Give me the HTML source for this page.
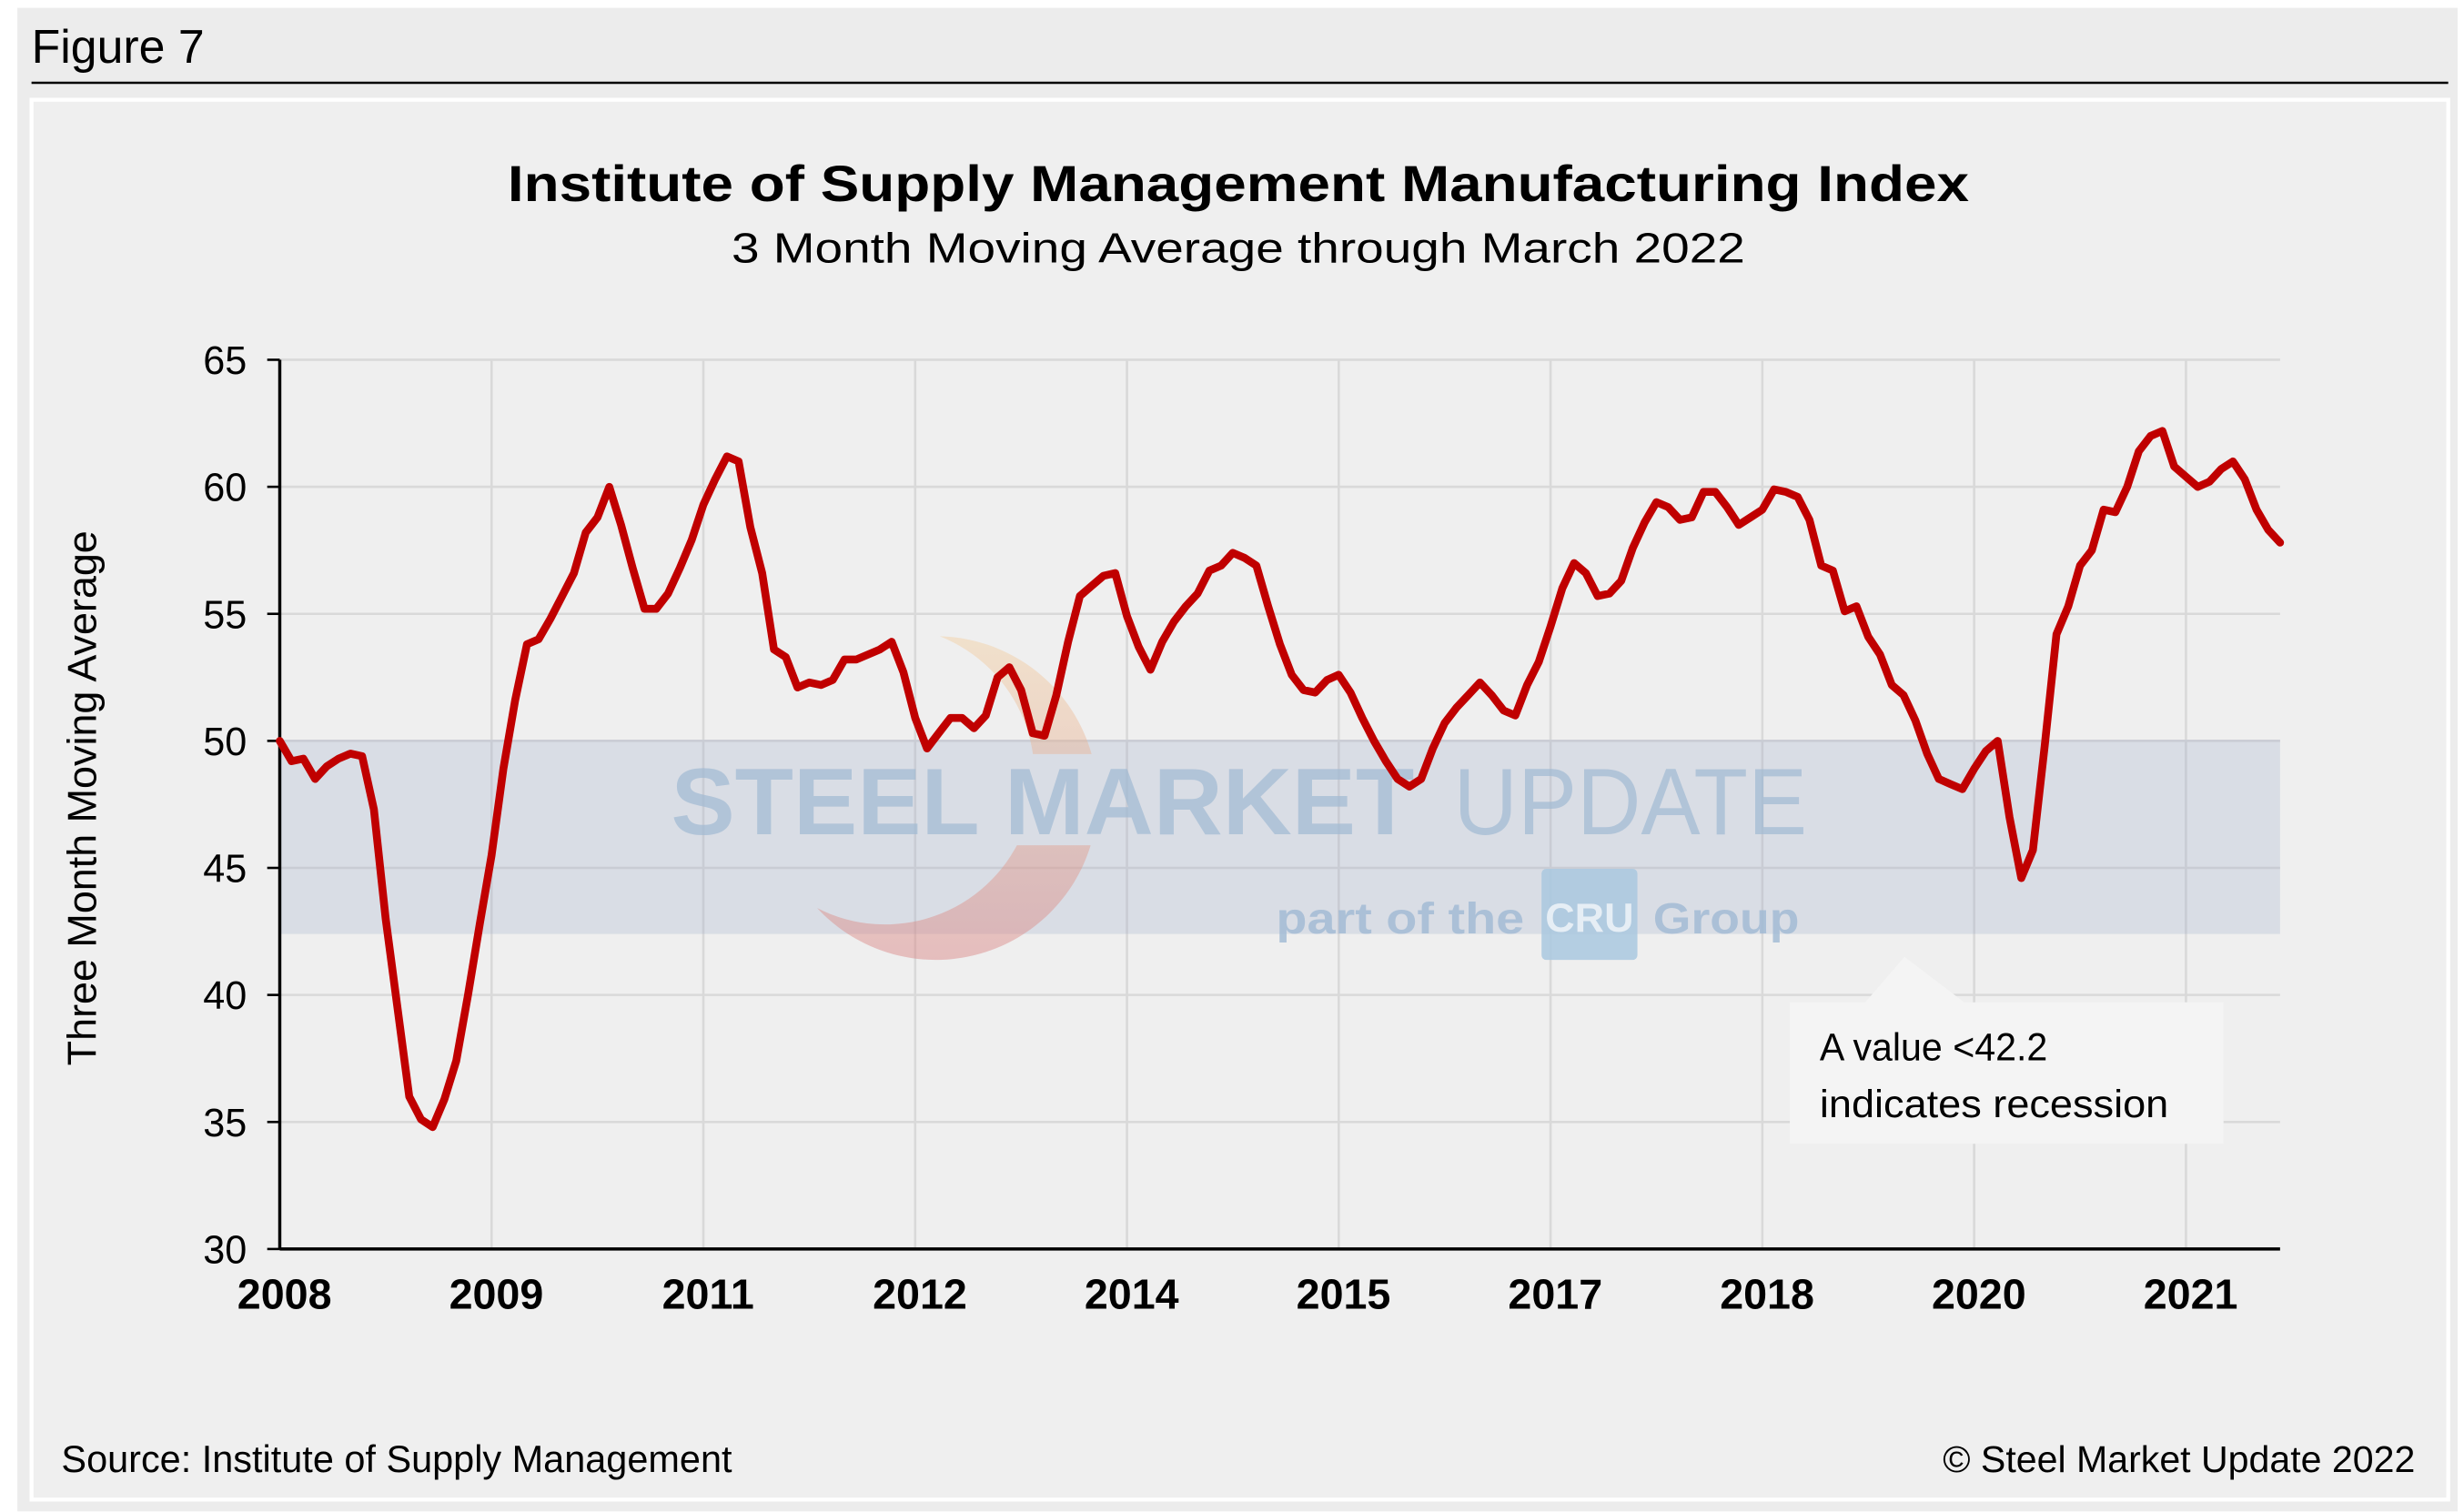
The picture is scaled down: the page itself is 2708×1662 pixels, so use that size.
<!DOCTYPE html>
<html><head><meta charset="utf-8"><style>
html,body{margin:0;padding:0;background:#fff;}
svg{display:block;}
text{font-family:"Liberation Sans",Arial,sans-serif;}
</style></head><body>
<svg id="chart" width="2708" height="1662" viewBox="0 0 1568 962.4" xmlns="http://www.w3.org/2000/svg">
<defs>
<linearGradient id="logoGrad" x1="0" y1="0" x2="0" y2="1">
<stop offset="0" stop-color="#f3cfa0" stop-opacity="0.45"/>
<stop offset="1" stop-color="#d88080" stop-opacity="0.45"/>
</linearGradient>
<clipPath id="logoClip"><rect x="0" y="0" width="1568" height="480"/><rect x="0" y="538" width="1568" height="300"/></clipPath>
</defs>
<rect x="11" y="5" width="1553" height="957" fill="#ececec"/>
<text x="20" y="40" font-size="30" fill="#000">Figure 7</text>
<line x1="20" y1="52.7" x2="1558" y2="52.7" stroke="#000" stroke-width="1.5"/>
<rect x="20" y="63.5" width="1538" height="891" fill="#efefef" stroke="#fff" stroke-width="2.5"/>
<text x="788" y="128" text-anchor="middle" font-size="32" font-weight="bold" textLength="930" lengthAdjust="spacingAndGlyphs">Institute of Supply Management Manufacturing Index</text>
<text x="788" y="167" text-anchor="middle" font-size="27" textLength="645" lengthAdjust="spacingAndGlyphs">3 Month Moving Average through March 2022</text>
<g id="grid"></g>
<rect id="band" fill="#d9dde5"/>
<g id="gridOver"></g>
<g>
<path d="M 598 405 A 103 103 0 1 1 520 578 A 95 95 0 1 0 598 405 Z" fill="url(#logoGrad)" clip-path="url(#logoClip)"/>
<text x="427" y="531" font-size="60" font-weight="bold" fill="#9fb9d3" fill-opacity="0.7" textLength="473" lengthAdjust="spacingAndGlyphs">STEEL MARKET</text>
<text x="925" y="531" font-size="60" fill="#9fb9d3" fill-opacity="0.7" textLength="225" lengthAdjust="spacingAndGlyphs">UPDATE</text>
<text x="812" y="594" font-size="28" font-weight="bold" fill="#9fb9d3" fill-opacity="0.8" textLength="158" lengthAdjust="spacingAndGlyphs">part of the</text>
<rect x="981" y="553" width="61" height="58" rx="3" fill="#a9c8df" fill-opacity="0.85"/>
<text x="1011.5" y="593" text-anchor="middle" font-size="26" font-weight="bold" fill="#e6eef5">CRU</text>
<text x="1052" y="594" font-size="28" font-weight="bold" fill="#9fb9d3" fill-opacity="0.8" textLength="93" lengthAdjust="spacingAndGlyphs">Group</text>
</g>
<g id="axes"></g>
<path id="series" fill="none" stroke="#c00000" stroke-width="5" stroke-linejoin="round" stroke-linecap="round"/>
<g>
<path d="M1139 638 L1187 638 L1212 609 L1250 638 L1415 638 L1415 728 L1139 728 Z" fill="#f4f4f4"/>
<text x="1158" y="675" font-size="24.5" textLength="145" lengthAdjust="spacingAndGlyphs">A value &lt;42.2</text>
<text x="1158" y="711" font-size="24.5" textLength="222" lengthAdjust="spacingAndGlyphs">indicates recession</text>
</g>
<text transform="translate(61,508) rotate(-90)" text-anchor="middle" font-size="26">Three Month Moving Average</text>
<text x="39" y="937" font-size="24">Source: Institute of Supply Management</text>
<text x="1537" y="937" text-anchor="end" font-size="23.8">© Steel Market Update 2022</text>
</svg>
<script>
const values = [50.0,49.2,49.3,48.5,49.0,49.3,49.5,49.4,47.3,43.0,39.5,36.0,35.1,34.8,35.9,37.4,40.0,42.8,
45.5,48.9,51.6,53.8,54.0,54.8,55.7,56.6,58.2,58.8,60.0,58.5,56.8,55.2,55.2,55.8,56.8,57.9,
59.3,60.3,61.2,61.0,58.4,56.6,53.6,53.3,52.1,52.3,52.2,52.4,53.2,53.2,53.4,53.6,53.9,52.7,
50.9,49.7,50.3,50.9,50.9,50.5,51.0,52.5,52.9,52.0,50.3,50.2,51.8,53.9,55.7,56.1,56.5,56.6,
54.9,53.7,52.8,53.9,54.7,55.3,55.8,56.7,56.9,57.4,57.2,56.9,55.3,53.8,52.6,52.0,51.9,52.4,
52.6,51.9,50.9,50.0,49.2,48.5,48.2,48.5,49.7,50.7,51.3,51.8,52.3,51.8,51.2,51.0,52.2,53.1,
54.5,56.0,57.0,56.6,55.7,55.8,56.3,57.6,58.6,59.4,59.2,58.7,58.8,59.8,59.8,59.2,58.5,58.8,
59.1,59.9,59.8,59.6,58.7,56.9,56.7,55.1,55.3,54.1,53.4,52.2,51.8,50.8,49.5,48.5,48.3,48.1,
48.9,49.6,50.0,47.0,44.6,45.7,49.8,54.2,55.3,56.9,57.5,59.1,59.0,60.0,61.4,62.0,62.2,60.8,
60.4,60.0,60.2,60.7,61.0,60.3,59.1,58.3,57.8];
const xTickLabels = ["2008","2009","2011","2012","2014","2015","2017","2018","2020","2021"];
const xTickMonths = [0,18,36,54,72,90,108,126,144,162];
const yTicks = [30,35,40,45,50,55,60,65];
const bandRange = [42.4,50];

const NS="http://www.w3.org/2000/svg";
const X0=178, X1=1451, Y0=795, Y1=229, YMIN=30, YMAX=65;
const nMonths = values.length-1;
function xs(m){return X0+(X1-X0)*m/nMonths;}
function ys(v){return Y0-(Y0-Y1)*(v-YMIN)/(YMAX-YMIN);}
function mk(tag,attrs,parent){const e=document.createElementNS(NS,tag);for(const k in attrs)e.setAttribute(k,attrs[k]);parent.appendChild(e);return e;}

const grid=document.getElementById('grid'), axes=document.getElementById('axes');
yTicks.forEach(v=>{
  const l=mk('line',{x1:X0,x2:X1,y1:ys(v),y2:ys(v),stroke:'#d9d9d9','stroke-width':1.5},grid);
  
  
  const t=mk('line',{x1:X0-8,x2:X0,y1:ys(v),y2:ys(v),stroke:'#000','stroke-width':1.5},axes);
  
  
  const tx=mk('text',{x:X0-21,y:ys(v)+9,'text-anchor':'end','font-size':25},axes);
  tx.textContent=v;
  
  
});
xTickMonths.forEach((m,i)=>{
  if(i>0){
    const l=mk('line',{x1:xs(m),x2:xs(m),y1:Y1,y2:Y0,stroke:'#d9d9d9','stroke-width':1.5},grid);
    
    
  }
  const tx=mk('text',{x:xs(m)+3,y:833,'text-anchor':'middle','font-size':27,'font-weight':'bold'},axes);
  tx.textContent=xTickLabels[i];
  
  
});
const band=document.getElementById('band');
band.setAttribute('x',X0);band.setAttribute('width',X1-X0);
band.setAttribute('y',ys(bandRange[1]));band.setAttribute('height',ys(bandRange[0])-ys(bandRange[1]));
const go=document.getElementById('gridOver');
yTicks.forEach(v=>{ if(v>bandRange[0]&&v<=bandRange[1]){
  const l=mk('line',{x1:X0,x2:X1,y1:ys(v),y2:ys(v),stroke:'#c9ccd4','stroke-width':1.5},go);
  
  
}});
xTickMonths.forEach((m,i)=>{ if(i>0){
  const l=mk('line',{x1:xs(m),x2:xs(m),y1:ys(bandRange[1]),y2:ys(bandRange[0]),stroke:'#c9ccd4','stroke-width':1.5},go);
  
  
}});
const ya=mk('line',{x1:X0,x2:X0,y1:Y1,y2:Y0,stroke:'#000','stroke-width':2},axes);


const xa=mk('line',{x1:X0,x2:X1,y1:Y0,y2:Y0,stroke:'#000','stroke-width':2},axes);


document.getElementById('series').setAttribute('d',values.map((v,i)=>(i?'L':'M')+xs(i).toFixed(1)+' '+ys(v).toFixed(1)).join(' '));
</script>
</body></html>
